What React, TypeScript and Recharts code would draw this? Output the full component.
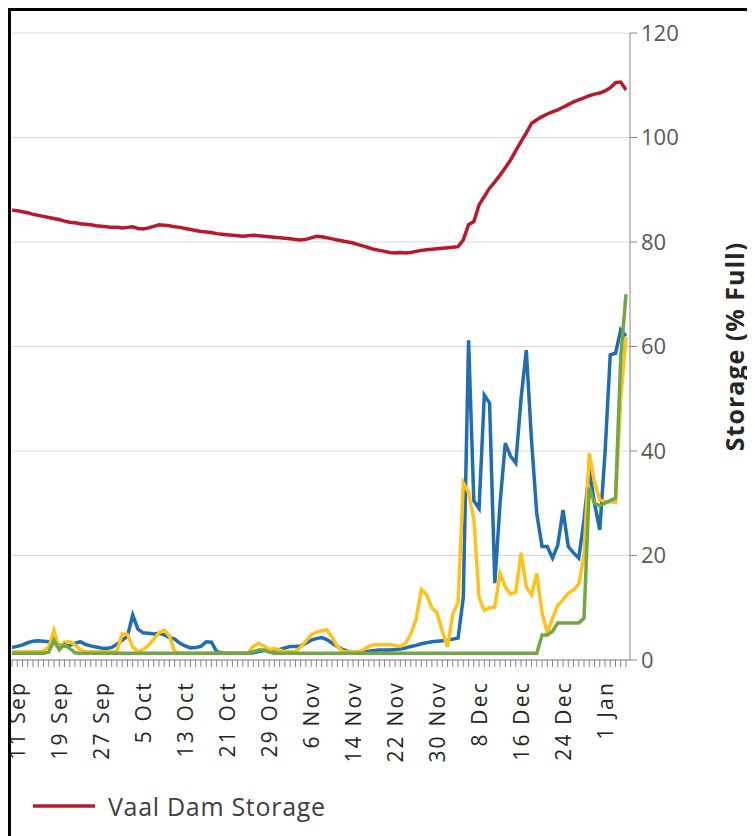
import React from 'react';
import { LineChart, Line, XAxis, YAxis, CartesianGrid, Legend } from 'recharts';

const FONT = '"Open Sans", "Noto Sans", sans-serif';
const RED = '#B8192B';
const BLUE = '#1F6DB2';
const YELLOW = '#FFC21A';
const GREEN = '#70A845';

const MONTHS = ['Jan', 'Feb', 'Mar', 'Apr', 'May', 'Jun', 'Jul', 'Aug', 'Sep', 'Oct', 'Nov', 'Dec'];

// Vaal Dam storage (% full), one value per day from 10 Sep to 5 Jan
const vaalStorage = [
  86.1, 86.0, 85.8, 85.6, 85.3, 85.1, 84.9, 84.7, 84.5, 84.3,
  84.0, 83.8, 83.7, 83.5, 83.4, 83.3, 83.1, 83.0, 82.9, 82.8,
  82.8, 82.7, 82.8, 82.9, 82.6, 82.5, 82.7, 83.0, 83.3, 83.2,
  83.1, 82.9, 82.8, 82.6, 82.4, 82.2, 82.0, 81.9, 81.8, 81.6,
  81.5, 81.4, 81.3, 81.2, 81.1, 81.2, 81.3, 81.2, 81.1, 81.0,
  80.9, 80.8, 80.7, 80.6, 80.5, 80.4, 80.5, 80.8, 81.1, 81.0,
  80.8, 80.6, 80.4, 80.2, 80.0, 79.8, 79.5, 79.2, 78.9, 78.6,
  78.4, 78.2, 78.0, 77.9, 78.0, 77.9, 78.0, 78.2, 78.4, 78.5,
  78.6, 78.7, 78.8, 78.9, 79.0, 79.1, 80.4, 83.3, 83.9, 87.1,
  88.7, 90.3, 91.5, 92.8, 94.2, 95.7, 97.5, 99.2, 100.9, 102.7,
  103.4, 104.0, 104.5, 104.9, 105.3, 105.8, 106.3, 106.8, 107.2, 107.6,
  108.0, 108.3, 108.5, 108.9, 109.5, 110.5, 110.6, 109.1,
];

const blueSeries = [
  2.4, 2.6, 2.9, 3.3, 3.6, 3.7, 3.6, 3.5, 3.2, 2.9,
  2.7, 2.8, 3.2, 3.5, 3.0, 2.7, 2.5, 2.3, 2.2, 2.4,
  3.0, 3.8, 4.5, 8.6, 5.9, 5.2, 5.1, 5.0, 5.1, 4.8,
  4.3, 4.0, 3.2, 2.7, 2.3, 2.4, 2.6, 3.5, 3.4, 1.6,
  1.4, 1.3, 1.3, 1.3, 1.3, 1.3, 1.4, 1.6, 1.8, 1.9,
  1.9, 2.0, 2.3, 2.6, 2.6, 2.7, 3.2, 3.8, 4.1, 4.3,
  3.9, 3.2, 2.6, 2.0, 1.7, 1.6, 1.6, 1.6, 1.7, 1.8,
  1.9, 1.9, 1.9, 2.0, 2.1, 2.3, 2.6, 2.8, 3.1, 3.3,
  3.5, 3.6, 3.7, 3.8, 4.0, 4.2, 12.0, 61.2, 30.5, 29.0,
  50.7, 49.2, 14.7, 30.0, 41.5, 39.0, 37.7, 50.0, 59.3, 42.0,
  28.0, 21.7, 21.7, 19.5, 22.0, 28.7, 21.7, 20.5, 19.5, 26.8,
  36.4, 30.0, 24.9, 39.6, 58.4, 58.7, 63.2, 62.0,
];

const yellowSeries = [
  1.6, 1.6, 1.6, 1.6, 1.6, 1.6, 1.7, 2.5, 5.7, 2.0,
  3.4, 3.5, 2.9, 2.0, 1.6, 1.6, 1.6, 1.6, 1.6, 1.6,
  1.7, 5.0, 4.9, 2.5, 1.6, 2.0, 2.8, 4.0, 5.2, 5.7,
  4.6, 1.6, 1.4, 1.3, 1.3, 1.3, 1.3, 1.3, 1.3, 1.3,
  1.3, 1.3, 1.3, 1.3, 1.3, 1.4, 2.6, 3.2, 2.7, 2.0,
  2.2, 1.9, 1.6, 1.6, 1.6, 2.5, 3.6, 4.8, 5.3, 5.6,
  5.8, 4.3, 2.6, 1.7, 1.6, 1.6, 1.6, 2.0, 2.6, 2.9,
  2.9, 2.9, 2.9, 2.8, 2.6, 3.2, 5.0, 7.8, 13.5, 12.5,
  10.0, 9.0, 5.5, 2.5, 8.9, 11.0, 33.9, 32.0, 27.0, 12.0,
  9.5, 10.0, 10.1, 16.6, 14.0, 12.6, 13.0, 20.5, 14.0, 12.5,
  16.6, 9.0, 5.2, 8.0, 10.5, 11.5, 12.8, 13.4, 14.5, 20.0,
  39.6, 34.0, 30.6, 30.4, 30.3, 30.2, 50.0, 61.8,
];

const greenSeries = [
  1.3, 1.3, 1.3, 1.3, 1.3, 1.3, 1.3, 1.5, 3.8, 2.0,
  3.0, 2.2, 1.4, 1.3, 1.3, 1.3, 1.3, 1.3, 1.3, 1.3,
  1.3, 1.3, 1.3, 1.3, 1.3, 1.3, 1.3, 1.3, 1.3, 1.3,
  1.3, 1.3, 1.3, 1.3, 1.3, 1.3, 1.3, 1.3, 1.3, 1.3,
  1.3, 1.3, 1.3, 1.3, 1.3, 1.3, 1.6, 1.9, 1.9, 1.5,
  1.3, 1.3, 1.3, 1.3, 1.3, 1.3, 1.3, 1.3, 1.3, 1.3,
  1.3, 1.3, 1.3, 1.3, 1.3, 1.3, 1.3, 1.3, 1.3, 1.3,
  1.3, 1.3, 1.3, 1.3, 1.3, 1.3, 1.3, 1.3, 1.3, 1.3,
  1.3, 1.3, 1.3, 1.3, 1.3, 1.3, 1.3, 1.3, 1.3, 1.3,
  1.3, 1.3, 1.3, 1.3, 1.3, 1.3, 1.3, 1.3, 1.3, 1.3,
  1.3, 4.8, 4.8, 5.5, 7.1, 7.1, 7.1, 7.1, 7.1, 8.0,
  33.0, 30.0, 29.5, 30.0, 30.5, 31.0, 58.0, 70.0,
];

const tickLabels = [
  '11 Sep', '19 Sep', '27 Sep', '5 Oct', '13 Oct', '21 Oct', '29 Oct', '6 Nov',
  '14 Nov', '22 Nov', '30 Nov', '8 Dec', '16 Dec', '24 Dec', '1 Jan',
];
const yTicks = [0, 20, 40, 60, 80, 100, 120];

// day names, starting 10 Sep
const START = Date.UTC(2013, 8, 10);
const days = vaalStorage.map((_, i) => {
  const d = new Date(START + i * 86400000);
  return `${d.getUTCDate()} ${MONTHS[d.getUTCMonth()]}`;
});

const data = days.map((day, i) => ({
  day,
  storage: vaalStorage[i],
  blue: blueSeries[i],
  yellow: yellowSeries[i],
  green: greenSeries[i],
}));

const DayTick = ({ x, y, payload }: any) => (
  <g transform={`translate(${x},${y})`}>
    <line x1={0} y1={0} x2={0} y2={7} stroke="#868686" strokeWidth={1} />
    {tickLabels.includes(payload.value) && (
      <text
        transform="rotate(-90)"
        x={-21}
        y={0}
        dy="0.36em"
        textAnchor="end"
        fill="#262626"
        fontSize={21}
        letterSpacing={2.2}
        fontFamily={FONT}
      >
        {payload.value}
      </text>
    )}
  </g>
);

const AxisTitle = ({ viewBox }: any) => {
  const cx = viewBox.x + 104;
  const cy = viewBox.y + viewBox.height / 2;
  return (
    <text
      x={cx}
      y={cy}
      transform={`rotate(-90 ${cx} ${cy})`}
      textAnchor="middle"
      dominantBaseline="central"
      fontSize={25}
      letterSpacing={1}
      fontWeight="bold"
      fontFamily={FONT}
      fill="#262626"
    >
      Storage (% Full)
    </text>
  );
};

const LegendContent = () => (
  <div
    style={{
      display: 'flex',
      alignItems: 'center',
      height: 60,
      paddingLeft: 21,
      fontFamily: FONT,
      fontSize: 25,
      letterSpacing: 0.7,
      color: '#404040',
    }}
  >
    <svg width={62} height={6}>
      <line x1={0} y1={3} x2={62} y2={3} stroke={RED} strokeWidth={3.5} />
    </svg>
    <span style={{ marginLeft: 13 }}>Vaal Dam Storage</span>
  </div>
);

export default function App() {
  return (
    <div
      style={{
        width: 744,
        height: 825,
        borderTop: '3px solid #000',
        borderLeft: '3px solid #000',
        overflow: 'hidden',
        background: '#fff',
      }}
    >
      <LineChart width={744} height={825} data={data} margin={{ top: 22, right: 4, left: 1, bottom: 0 }}>
        <CartesianGrid vertical={false} stroke="#D9D9D9" />
        <XAxis
          dataKey="day"
          interval={0}
          padding={{ left: 0, right: 4 }}
          height={116}
          tickLine={false}
          tickSize={0}
          tickMargin={0}
          axisLine={{ stroke: '#868686' }}
          tick={<DayTick />}
        />
        <YAxis
          orientation="right"
          width={121}
          domain={[0, 120]}
          ticks={yTicks}
          axisLine={{ stroke: '#868686' }}
          tickLine={{ stroke: '#868686' }}
          tickSize={7}
          tickMargin={4}
          tick={{ fill: '#595959', fontSize: 22, fontFamily: FONT }}
          label={{ content: <AxisTitle /> }}
        />
        <Legend verticalAlign="bottom" align="left" wrapperStyle={{ height: 60 }} content={<LegendContent />} />
        <Line dataKey="blue" stroke={BLUE} strokeWidth={3.5} dot={false} legendType="none" isAnimationActive={false} />
        <Line dataKey="yellow" stroke={YELLOW} strokeWidth={3.5} dot={false} legendType="none" isAnimationActive={false} />
        <Line dataKey="green" stroke={GREEN} strokeWidth={3.5} dot={false} legendType="none" isAnimationActive={false} />
        <Line
          dataKey="storage"
          name="Vaal Dam Storage"
          stroke={RED}
          strokeWidth={3.5}
          dot={false}
          isAnimationActive={false}
        />
      </LineChart>
    </div>
  );
}
